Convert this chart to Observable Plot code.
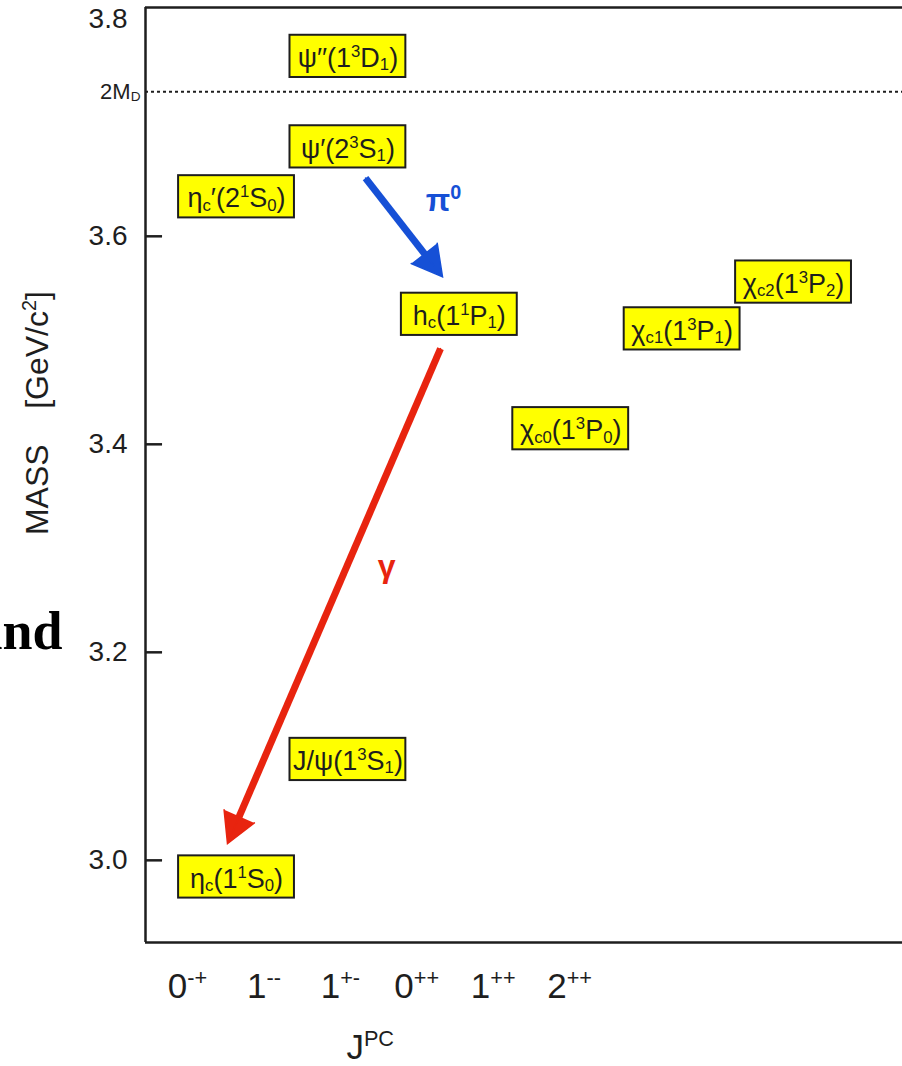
<!DOCTYPE html>
<html>
<head>
<meta charset="utf-8">
<script src="https://cdn.jsdelivr.net/npm/d3@7"></script>
<script src="https://cdn.jsdelivr.net/npm/@observablehq/plot@0.6"></script>
<style>
  html, body { margin: 0; padding: 0; background: #fff; }
  #chart { width: 902px; height: 1066px; overflow: hidden; }
</style>
</head>
<body>
<div id="chart"></div>
<script>
// ---------- data ----------
// charmonium levels: label (with ^{} superscripts and _{} subscripts), J^PC column index, mass in GeV/c^2
const levelLabels = [
  "η_{c}(1^{1}S_{0})", "J/ψ(1^{3}S_{1})", "η_{c}′(2^{1}S_{0})", "ψ′(2^{3}S_{1})", "ψ′′(1^{3}D_{1})",
  "h_{c}(1^{1}P_{1})", "χ_{c0}(1^{3}P_{0})", "χ_{c1}(1^{3}P_{1})", "χ_{c2}(1^{3}P_{2})"
];
const levelJPC  = [0, 1, 0, 1, 1, 2, 3, 4, 5];
const levelMass = [2.984, 3.097, 3.638, 3.686, 3.773, 3.525, 3.415, 3.511, 3.556];

// x tick labels (J^PC)
const jpcLabels = ["0^{-+}", "1^{--}", "1^{+-}", "0^{++}", "1^{++}", "2^{++}"];
const xTitle = "J^{PC}";

// y axis
const massTicks = [3.0, 3.2, 3.4, 3.6];
const topTick = 3.8;
const yTitle = "MASS\u00a0\u00a0\u00a0\u00a0[GeV/c^{2}]";

// open-charm threshold
const thresholdLabel = "2M_{D}";
const thresholdMass = 3.739;

// transitions (arrows): start/end in (J^PC column, mass) units, plus label anchor
const transitionLabels = ["π^{0}", "γ"];
const transitionX1 = [1.158, 1.831];
const transitionY1 = [3.656, 3.492];
const transitionX2 = [1.849, -0.081];
const transitionY2 = [3.561, 3.016];
const transitionLX = [1.858, 1.347];
const transitionLY = [3.634, 3.282];

// stray slide text visible at the left edge
const strayText = "and";

// ---------- build tables ----------
const levels = levelLabels.map((label, i) => ({label, jpc: levelJPC[i], mass: levelMass[i]}));
const transitions = transitionLabels.map((label, i) => ({
  label, x1: transitionX1[i], y1: transitionY1[i], x2: transitionX2[i], y2: transitionY2[i],
  lx: transitionLX[i], ly: transitionLY[i], kind: i
}));

// ---------- styles ----------
const font = "'Liberation Sans', Arial, Helvetica, sans-serif";
const ink = "#1e1e1e";
const yellow = "#ffff00";
const transitionColors = ["#1650d6", "#e8240f"];
const xDomain = [-0.817, 5.978];
const yDomain = [2.921, 3.820];
const boxHalfW = 0.52, boxHalfH = 0.0203;
const tickStart = -0.44, tickStep = 0.686; // J^PC tick-label placement along x

const plot = Plot.plot({
  width: 902,
  height: 1066,
  marginLeft: 145,
  marginRight: 0,
  marginTop: 7,
  marginBottom: 124,
  style: {fontFamily: font, background: "#fff", color: ink, overflow: "visible"},
  x: {domain: xDomain, axis: null},
  y: {domain: yDomain},
  marks: [
    // threshold dotted line
    Plot.ruleY([thresholdMass], {stroke: ink, strokeWidth: 2, strokeDasharray: "3,3"}),
    Plot.text([thresholdLabel], {x: () => xDomain[0], y: () => thresholdMass, dx: -5, textAnchor: "end", fontSize: 22, fill: ink}),
    // frame: top, bottom, left
    Plot.ruleY(yDomain, {stroke: ink, strokeWidth: 2.5}),
    Plot.ruleX([xDomain[0]], {stroke: ink, strokeWidth: 2.5}),
    // inward y ticks
    Plot.ruleY(massTicks, {x1: () => xDomain[0], x2: () => xDomain[0] + 0.153, stroke: ink, strokeWidth: 2.5}),
    Plot.axisY(massTicks, {tickSize: 0, tickPadding: 18, fontSize: 28, tickFormat: d3.format(".1f"), label: null}),
    Plot.text([topTick], {x: () => xDomain[0], y: d => d, dx: -18, dy: -9, textAnchor: "end", fontSize: 28, text: d3.format(".1f"), fill: ink}),
    // y title
    Plot.text([yTitle], {x: () => xDomain[0], y: () => 3.43, dx: -108, rotate: -90, fontSize: 32, fill: ink}),
    // x tick labels and title
    Plot.text(jpcLabels, {x: (d, i) => tickStart + tickStep * i, y: () => yDomain[0], dy: 44, fontSize: 35, fill: ink, ariaLabel: "jpc-tick"}),
    Plot.text([xTitle], {x: () => 1.2, y: () => yDomain[0], dy: 105, fontSize: 35, fill: ink, ariaLabel: "jpc-tick"}),
    // level boxes
    Plot.rect(levels, {
      x1: d => d.jpc - boxHalfW, x2: d => d.jpc + boxHalfW,
      y1: d => d.mass - boxHalfH, y2: d => d.mass + boxHalfH,
      fill: yellow, stroke: ink, strokeWidth: 2
    }),
    Plot.text(levels, {x: "jpc", y: "mass", text: "label", fontSize: 27, dy: 2, fill: ink}),
    // transition arrows: shaft then filled head
    Plot.arrow(transitions, {
      x1: "x1", y1: "y1", x2: "x2", y2: "y2",
      stroke: d => transitionColors[d.kind], strokeWidth: 7, headLength: 0, insetEnd: 14, strokeLinecap: "butt"
    }),
    Plot.arrow(transitions, {
      x1: "x1", y1: "y1", x2: "x2", y2: "y2",
      stroke: d => transitionColors[d.kind], fill: d => transitionColors[d.kind],
      strokeWidth: 1.5, headLength: 34, headAngle: 58, strokeLinejoin: "miter", strokeMiterlimit: 4
    }),
    Plot.text(transitions, {
      x: "lx", y: "ly", text: "label", fontSize: 32, fontWeight: "bold",
      fill: d => transitionColors[d.kind]
    }),
    // stray text cut by the left edge
    Plot.text([strayText], {
      x: () => xDomain[0], y: () => 3.2, dx: -83, dy: -3, textAnchor: "end", lineAnchor: "bottom",
      fontFamily: "'Liberation Serif', 'Times New Roman', serif", fontWeight: "bold", fontSize: 54, fill: "#000"
    })
  ]
});

document.getElementById("chart").appendChild(plot);

// ---------- rich text: ^{...} superscripts, _{...} subscripts ----------
function richify(svg) {
  const NS = "http://www.w3.org/2000/svg";
  svg.querySelectorAll("text").forEach(t => {
    const s = t.textContent;
    if (!/[\^_]\{/.test(s)) return;
    const fs = parseFloat(getComputedStyle(t).fontSize) || 16;
    while (t.firstChild) t.removeChild(t.firstChild);
    const re = /([\^_])\{([^}]*)\}|([^\^_]+)/g;
    let m, shift = 0;
    while ((m = re.exec(s))) {
      const ts = document.createElementNS(NS, "tspan");
      let target = 0, size = null, str;
      if (m[1] === "^") { target = -0.37 * fs; size = 0.62 * fs; str = m[2]; }
      else if (m[1] === "_") { target = 0.12 * fs; size = 0.62 * fs; str = m[2]; }
      else { str = m[3]; }
      ts.textContent = str;
      if (target !== shift) ts.setAttribute("dy", (target - shift).toFixed(2));
      shift = target;
      if (size) ts.setAttribute("font-size", size.toFixed(2));
      t.appendChild(ts);
    }
  });
}
richify(plot);

// condensed look for the J^PC labels
plot.querySelectorAll('g[aria-label="jpc-tick"] text').forEach(t => {
  const tr = t.getAttribute("transform") || "";
  t.setAttribute("transform", tr + " scale(0.78,1)");
});
</script>
</body>
</html>
